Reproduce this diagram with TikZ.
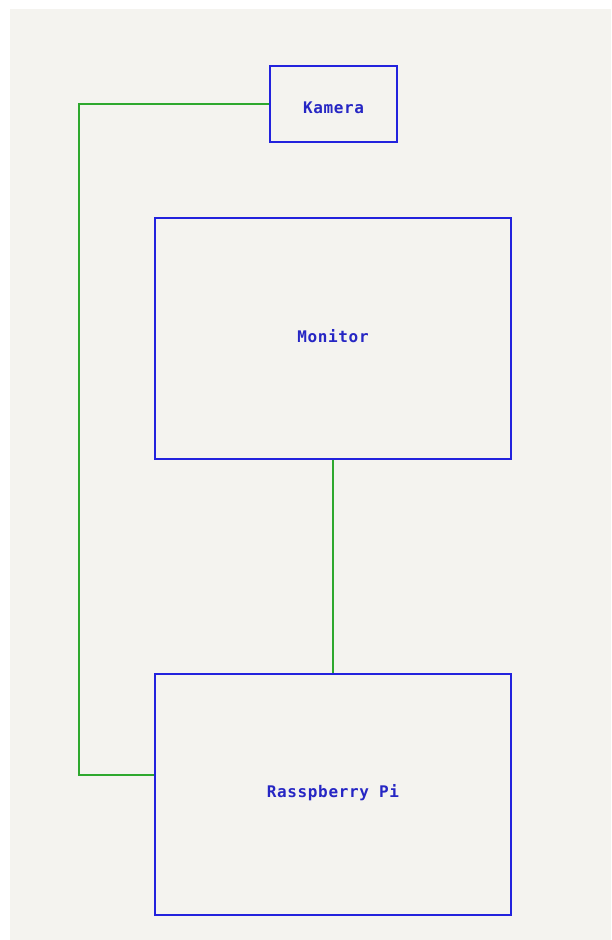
\documentclass[tikz,border=0pt]{standalone}
\usepackage{fontspec}
\newfontfamily\boxfont[LetterSpace=4]{DejaVu Sans Mono}
\definecolor{bg}{HTML}{F4F3EF}
\definecolor{boxblue}{HTML}{2222DD}
\definecolor{textblue}{HTML}{2626C4}
\definecolor{wiregreen}{HTML}{2EA82E}
\begin{document}
\begin{tikzpicture}[x=1pt,y=-1pt,
  unit/.style={draw=boxblue,line width=1.8pt,fill=bg,inner sep=0pt},
  unitlabel/.style={text=textblue,inner sep=0pt,font=\boxfont\bfseries\fontsize{16}{18}\selectfont},
  wire/.style={draw=wiregreen,line width=1.5pt}]
\useasboundingbox (0,0) rectangle (611,940);
\fill[white] (0,0) rectangle (611,940);
\fill[bg] (10,9) rectangle (611,940);
\node[unit,minimum width=127pt,minimum height=76pt,
  label={[unitlabel,yshift=-4pt]center:Kamera}] (kam) at (333.5,104) {};
\node[unit,minimum width=356pt,minimum height=241pt,
  label={[unitlabel,yshift=2pt]center:Monitor}] (mon) at (333,338.5) {};
\node[unit,minimum width=356pt,minimum height=241pt,
  label={[unitlabel,yshift=2pt]center:Rasspberry Pi}] (pi) at (333,794.5) {};
\coordinate (c1) at (79,104);
\coordinate (c2) at (79,775);
\draw[wire] (kam.west) -- (c1) -- (c2) -- (c2 -| pi.west);
\draw[wire] (mon.south) -- (pi.north);
\end{tikzpicture}
\end{document}
